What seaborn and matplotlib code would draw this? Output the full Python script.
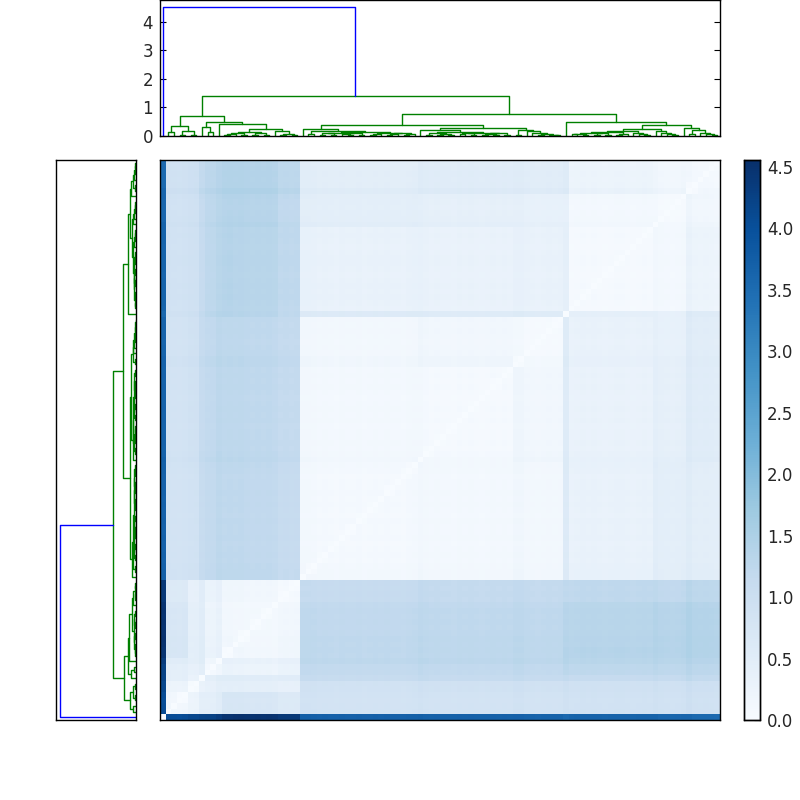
import matplotlib
matplotlib.use("Agg")
import matplotlib.pyplot as plt
import numpy as np
import seaborn as sns

sns.set_style("white")
plt.rcParams["font.family"] = ["DejaVu Sans"]
plt.rcParams["font.size"] = 12

# merge height between each pair of neighbouring leaves
gap_heights = [
    4.54, .15, .36, .03, .18, .04, .70, .30, .14, .48,
    .41, .03, .06, .11, .04, .13, .05, .09, .04, .26,
    .17, .03, .08, .03, 1.386, .26, .07, .19, .05, .09,
    .04, .12, .06, .03, .10, .05, .14, .04, .08, .11,
    .03, .07, .09, .04, .06, .385, .20, .05, .12, .04,
    .08, .03, .15, .06, .09, .04, .11, .05, .07, .03,
    .09, .05, .27, .05, .20, .17, .10, .05, .07, .04,
    .02, .76, .48, .06, .08, .04, .11, .05, .09, .03,
    .13, .05, .08, .17, .09, .06, .04, .235, .17, .10,
    .07, .05, .385, .29, .07, .20, .12, .08, .04,
]

# leaves per block of the heatmap, in dendrogram order
block_sizes = [1, 4, 2, 1, 3, 2, 8, 4, 21, 17, 9, 1, 15, 6, 6]

# distance between blocks, upper triangle, one list per block
block_0 = [0, 4.05, 4.15, 4.2, 4.25, 4.45, 4.5, 4.4, 3.7, 3.68, 3.65, 3.55, 3.65, 3.6, 3.55]
block_1 = [.15, .25, .42, .45, .72, .72, .62, .85, .85, .85, .9, .88, .88, .9]
block_2 = [.1, .3, .38, .42, .42, .38, .88, .9, .9, .95, .92, .92, .95]
block_3 = [0, .45, .5, .5, .5, 1.1, 1.12, 1.12, 1.15, 1.12, 1.12, 1.15]
block_4 = [.1, .28, .25, .3, 1.18, 1.2, 1.2, 1.28, 1.25, 1.25, 1.28]
block_5 = [.03, .12, .15, 1.2, 1.22, 1.22, 1.35, 1.35, 1.35, 1.38]
block_6 = [.1, .15, 1.2, 1.22, 1.22, 1.33, 1.33, 1.35, 1.38]
block_7 = [.07, 1.12, 1.15, 1.15, 1.2, 1.22, 1.2, 1.25]
block_8 = [.08, .1, .12, .58, .33, .45, .47]
block_9 = [.07, .15, .55, .32, .4, .52]
block_10 = [.06, .55, .33, .36, .5]
block_11 = [0, .4, .36, .55]
block_12 = [.07, .1, .25]
block_13 = [.05, .15]
block_14 = [.08]
block_rows = [block_0, block_1, block_2, block_3, block_4, block_5, block_6, block_7,
              block_8, block_9, block_10, block_11, block_12, block_13, block_14]

# how much darker/lighter each leaf's row and column reads
leaf_shade = [
    0, .01, 0, -.01, .01, 0, .01, .02, -.01, 0,
    .08, .02, .03, .02, .03, .01, 0, .01, 0, .01,
    -.01, 0, .01, 0, .01, .03, .03, .02, 0, .01,
    0, -.01, .01, 0, 0, .01, -.01, 0, .01, 0,
    .01, 0, 0, -.01, .01, .02, .05, .02, 0, .01,
    0, 0, -.01, .01, 0, .01, 0, -.01, 0, .01,
    0, .01, 0, .05, .05, .01, 0, -.01, 0, .01,
    0, .01, .02, -.01, 0, .01, 0, .01, 0, -.01,
    0, .01, .01, 0, -.01, 0, .01, 0, .05, .01,
    0, -.01, 0, .02, .08, .01, 0, .01, 0, -.01,
]

Y_MAX = 4.77
V_MAX = 4.557
COLOR_TICKS = [0.0, 0.5, 1.0, 1.5, 2.0, 2.5, 3.0, 3.5, 4.0, 4.5]
TOP_TICKS = [0, 1, 2, 3, 4]
BLUE_ABOVE = 3.18


def BuildMatrix():
    groups = np.repeat(np.arange(len(block_sizes)), block_sizes)
    n = len(groups)
    table = np.zeros((len(block_sizes), len(block_sizes)))
    for i, row in enumerate(block_rows):
        for k, v in enumerate(row):
            table[i, i + k] = v
            table[i + k, i] = v
    shade = np.array(leaf_shade)
    D = table[groups][:, groups] + shade[:, None] + shade[None, :]
    D = np.clip(D, 0, None)
    # neighbours on the diagonal sit closer, use their merge height
    for i in range(n - 1):
        if groups[i] == groups[i + 1]:
            D[i, i + 1] = D[i + 1, i] = min(D[i, i + 1], gap_heights[i])
    np.fill_diagonal(D, 0)
    return D


def Walk(lo, hi, out):
    # returns (position, height) of the node that covers leaves lo..hi
    if lo == hi:
        return 10 * lo + 5, 0.0
    m = lo + int(np.argmax(gap_heights[lo:hi]))
    h = gap_heights[m]
    x1, h1 = Walk(lo, m, out)
    x2, h2 = Walk(m + 1, hi, out)
    out.append(([x1, x1, x2, x2], [h1, h, h, h2], 'b' if h > BLUE_ABOVE else 'g'))
    return (x1 + x2) / 2, h


fig = plt.figure(figsize=(8, 8), dpi=100)
ax_top = fig.add_axes([0.2, 0.83, 0.7, 0.17])
ax_left = fig.add_axes([0.07, 0.1, 0.1, 0.7])
ax_map = fig.add_axes([0.2, 0.1, 0.7, 0.7])
ax_bar = fig.add_axes([0.93, 0.1, 0.02, 0.7])

links = []
Walk(0, len(gap_heights), links)
for xs, hs, c in links:
    ax_top.plot(xs, hs, color=c, lw=1)
    ax_left.plot(hs, xs, color=c, lw=1)

ax_top.set_xlim(0, 1000)
ax_top.set_ylim(0, Y_MAX)
ax_top.set_xticks([])
ax_top.set_yticks(TOP_TICKS)
ax_top.tick_params(axis='y', direction='in', left=True, right=True, length=4, width=0.8, color='k', labelsize=12, pad=5)

ax_left.set_xlim(Y_MAX, 0)
ax_left.set_ylim(0, 1000)
ax_left.set_xticks([])
ax_left.set_yticks([])

sns.heatmap(BuildMatrix(), ax=ax_map, cbar_ax=ax_bar, cmap="Blues", vmin=0, vmax=V_MAX,
            xticklabels=False, yticklabels=False, square=False,
            cbar_kws={"ticks": COLOR_TICKS, "format": "%.1f"})
ax_map.invert_yaxis()
ax_map.set_position([0.2, 0.1, 0.7, 0.7])

for ax in [ax_top, ax_left, ax_map, ax_bar]:
    for s in ax.spines.values():
        s.set_visible(True)
        s.set_color('k')
        s.set_linewidth(1)

cbar = ax_map.collections[0].colorbar
cbar.outline.set_visible(True)
cbar.outline.set_edgecolor('k')
cbar.outline.set_linewidth(1)
ax_bar.tick_params(axis='y', direction='in', right=True, left=False, length=4, width=0.8, color='k', labelsize=12, pad=5)
ax_bar.set_position([0.93, 0.1, 0.02, 0.7])

fig.savefig("out.png", dpi=100)
